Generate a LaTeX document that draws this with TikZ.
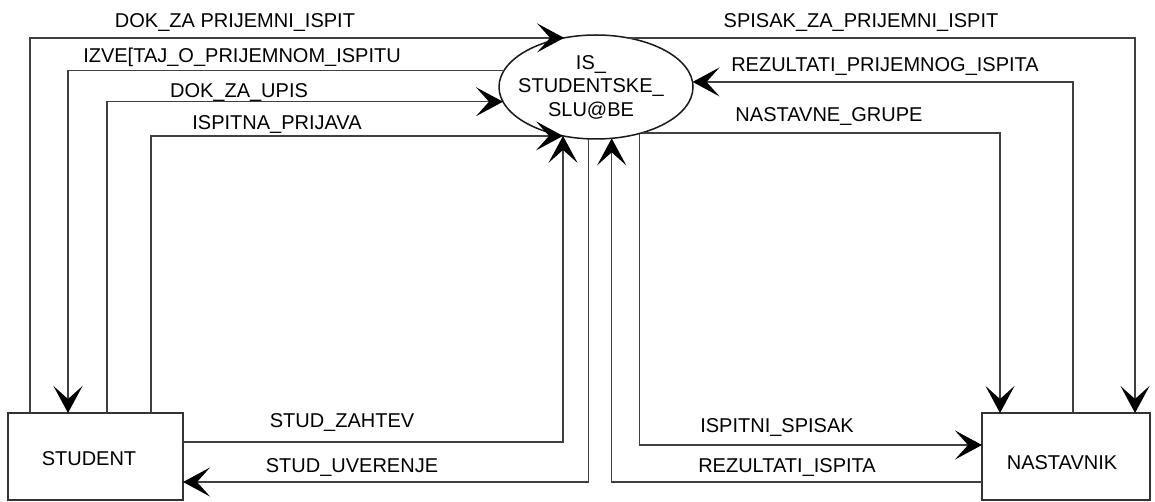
\documentclass[tikz,border=0pt]{standalone}
\usepackage{fontspec}
\setmainfont{Liberation Sans}
\usetikzlibrary{arrows.meta,shapes.geometric}

\tikzset{
  flow/.style={draw=black!75, line width=1.5pt,
    -{Stealth[length=27pt,width=29pt,inset=13pt,color=black]}},
  entity/.style={draw=black!80, line width=1.5pt, rectangle, inner sep=0pt,
    outer sep=0pt, minimum height=87pt},
  proc/.style={draw=black!90, line width=1.5pt, ellipse, inner sep=0pt,
    outer sep=0pt, minimum width=194pt, minimum height=104pt},
  lbl/.style={anchor=base, inner sep=0pt, font=\fontsize{20}{24}\selectfont},
}

\begin{document}
\begin{tikzpicture}[x=1pt,y=-1pt]
  \useasboundingbox (0,0) rectangle (1155,502);

  % process and external entities
  \node[proc] (is) at (596,87) {};
  \node[align=center, inner sep=0pt, font=\fontsize{20}{23.5}\selectfont]
    (istext) at (591,87) {IS\_\\STUDENTSKE\_\\SLU@BE};
  \node[entity, minimum width=175pt] (student) at (95.5,456.5) {};
  \node[lbl] (studtext) at (89,465) {STUDENT};
  \node[entity, minimum width=168pt] (nast) at (1066,456.5) {};
  \node[lbl] (nasttext) at (1062,469) {NASTAVNIK};

  % flows between the student and the office
  \draw[flow] ([xshift=22pt]student.north west) |- (is.123.56);
  \draw[flow] (is.170.17) -| ([xshift=60pt]student.north west);
  \draw[flow] ([xshift=99pt]student.north west) |- (is.189.83);
  \draw[flow] ([xshift=143pt]student.north west) |- (is.236.44);
  \draw[flow] ([yshift=14.5pt]student.east) -| (is.236);
  \draw[flow] (is.262.31) |- ([yshift=-25.5pt]student.east);

  % flows between the office and the teacher
  \draw[flow] (is.56.44) -| ([xshift=-15pt]nast.north east);
  \draw[flow] ([xshift=91pt]nast.north west) |- (is.3.56);
  \draw[flow] (is.-45.5) -| ([xshift=18pt]nast.north west);
  \draw[flow] (is.-47.3) |- ([yshift=11.5pt]nast.west);
  \draw[flow] ([yshift=-25.5pt]nast.west) -| (is.-73.73);

  % flow labels
  \node[lbl] (l1) at (235,28) {DOK\_ZA PRIJEMNI\_ISPIT};
  \node[lbl] (l2) at (242,63) {IZVE[TAJ\_O\_PRIJEMNOM\_ISPITU};
  \node[lbl] (l3) at (239,98) {DOK\_ZA\_UPIS};
  \node[lbl] (l4) at (277,130) {ISPITNA\_PRIJAVA};
  \node[lbl] (l5) at (342,427) {STUD\_ZAHTEV};
  \node[lbl] (l6) at (352,472) {STUD\_UVERENJE};
  \node[lbl] (l7) at (861,28) {SPISAK\_ZA\_PRIJEMNI\_ISPIT};
  \node[lbl] (l8) at (885,72) {REZULTATI\_PRIJEMNOG\_ISPITA};
  \node[lbl] (l9) at (829,122) {NASTAVNE\_GRUPE};
  \node[lbl] (l10) at (777,432) {ISPITNI\_SPISAK};
  \node[lbl] (l11) at (787,472) {REZULTATI\_ISPITA};
\end{tikzpicture}
\end{document}
